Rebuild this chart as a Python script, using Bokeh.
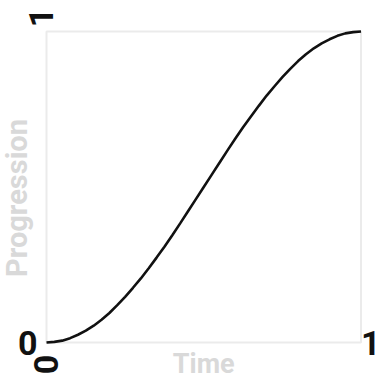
import math
from bokeh.plotting import figure
from bokeh.models import Range1d, Label
from bokeh.embed import file_html
from bokeh.resources import INLINE

# Data (progression vs time)
time = [0.0, 0.025, 0.05, 0.075, 0.1, 0.125, 0.15, 0.175, 0.2, 0.225, 0.25,
        0.275, 0.3, 0.325, 0.35, 0.375, 0.4, 0.425, 0.45, 0.475, 0.5,
        0.525, 0.55, 0.575, 0.6, 0.625, 0.65, 0.675, 0.7, 0.725, 0.75,
        0.775, 0.8, 0.825, 0.85, 0.875, 0.9, 0.925, 0.95, 0.975, 1.0]
progression = [0.0, 0.002, 0.006, 0.014, 0.025, 0.038, 0.054, 0.073, 0.095, 0.120, 0.147,
               0.176, 0.206, 0.239, 0.273, 0.308, 0.345, 0.383, 0.422, 0.461, 0.500,
               0.539, 0.578, 0.617, 0.655, 0.692, 0.727, 0.761, 0.794, 0.824, 0.853,
               0.880, 0.905, 0.927, 0.946, 0.962, 0.975, 0.986, 0.994, 0.998, 1.0]
tick_labels = ["0", "1"]
x_title = "Time"
y_title = "Progression"

FONT = "Roboto"
TITLE_COLOR = "#d9d9d9"

p = figure(width=380, height=384, output_backend="svg", toolbar_location=None,
           x_axis_type=None, y_axis_type=None,
           x_range=Range1d(-0.1463, 1.062), y_range=Range1d(-0.135, 1.0997),
           min_border=0)
p.grid.visible = False
p.outline_line_color = None
p.background_fill_color = "white"
p.border_fill_color = "white"

# plot box (light frame)
p.quad(left=[time[0]], right=[time[-1]], bottom=[progression[0]], top=[progression[-1]],
       fill_color=None, line_color="#ebebeb", line_width=2)

p.line(time, progression, line_color="#111111", line_width=2.6)

common = dict(text_font=FONT, text_font_style="bold", text_color="#111111", text_font_size="34px")

# upright labels, at the level of the bottom edge
p.add_layout(Label(x=time[0], y=progression[0], text=tick_labels[0], text_align="right",
                   text_baseline="middle", x_offset=-9, y_offset=0, **common))
p.add_layout(Label(x=time[-1], y=progression[0], text=tick_labels[1], text_align="right",
                   text_baseline="middle", x_offset=19.5, y_offset=0, **common))
# rotated labels
p.add_layout(Label(x=time[0], y=progression[0], text=tick_labels[0], text_align="center",
                   text_baseline="middle", angle=math.pi / 2, x_offset=-1, y_offset=-22, **common))
p.add_layout(Label(x=time[0], y=progression[-1], text=tick_labels[1], text_align="center",
                   text_baseline="middle", angle=math.pi / 2, x_offset=-6, y_offset=14, **common))

# axis titles
p.add_layout(Label(x=0.5, y=progression[0], text=x_title, text_align="center",
                   text_baseline="middle", y_offset=-21,
                   text_font=FONT, text_font_style="bold", text_color=TITLE_COLOR,
                   text_font_size="27px"))
p.add_layout(Label(x=time[0], y=0.5, text=y_title, text_align="center",
                   text_baseline="middle", angle=math.pi / 2, x_offset=-30, y_offset=-11,
                   text_font=FONT, text_font_style="bold", text_color=TITLE_COLOR,
                   text_font_size="29px"))

open("out.html", "w").write(file_html(p, INLINE))
